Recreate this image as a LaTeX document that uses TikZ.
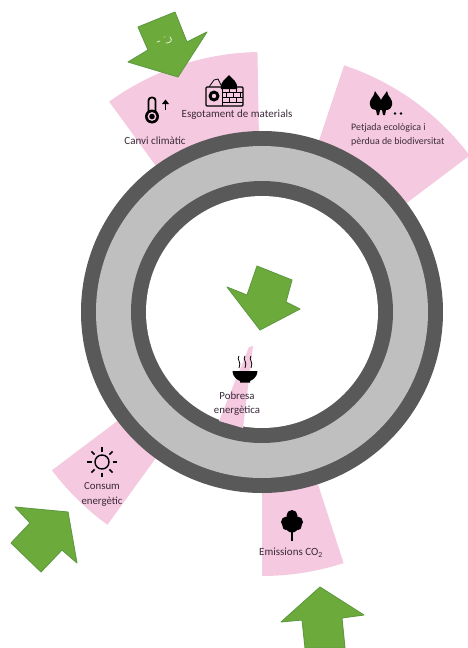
\documentclass[tikz,border=0pt]{standalone}
\usepackage{fontspec}
\usetikzlibrary{calc}
\setmainfont{Carlito}
\definecolor{pinkfill}{HTML}{F5C9E0}
\definecolor{arrowgreen}{HTML}{6DAA3C}
\definecolor{arrowedge}{HTML}{5E9A40}
\definecolor{ringdark}{HTML}{595959}
\definecolor{ringlight}{HTML}{BFBFBF}
\definecolor{labelink}{HTML}{3A2A3A}
\tikzset{
  sector/.style={fill=pinkfill,draw=none},
  bigarrow/.style={fill=arrowgreen,draw=arrowedge,line width=0.9pt,line join=round},
  lbl/.style={font=\fontsize{11}{13}\selectfont,text=labelink,inner sep=0pt,align=center},
  icon/.style={fill=black,draw=none}
}
\begin{document}
\begin{tikzpicture}[x=1pt,y=-1pt]
\useasboundingbox (0,0) rectangle (467,648);
\coordinate (c) at (262,312);
% pink sectors (centre c, y axis downward so angles are negated)
\fill[sector] (c) -- ($(c)+(-126:260)$) arc[start angle=-126,end angle=-91,radius=260] -- cycle;
\fill[sector] (c) -- ($(c)+(-71.6:260)$) arc[start angle=-71.6,end angle=-37,radius=260] -- cycle;
\fill[sector] (c) -- ($(c)+(-217:263)$) arc[start angle=-217,end angle=-234,radius=263] -- cycle;
\fill[sector] (c) -- ($(c)+(-270:264)$) arc[start angle=-270,end angle=-288,radius=264] -- cycle;
% ring
\fill[ringdark] (c) circle[radius=181];
\fill[ringlight] (c) circle[radius=166];
\fill[ringdark] (c) circle[radius=131];
\fill[white] (c) circle[radius=116];
% pink strip inside
\fill[sector] (249,347) -- (253,346) -- (243,428) -- (219,421) -- cycle;
% arrows
\draw[bigarrow] (175,12) -- (138,27) -- (148,50) -- (128,62) -- (178,77) -- (207,32) -- (187,42) -- cycle;
\draw[white,line width=0.9pt,opacity=0.75,line cap=round] (157,42) -- (160,41) (164,37) -- (165,37) (166,43) .. controls (171,43) and (173,40) .. (170,37);
\draw[bigarrow] (257,266) -- (292,280) -- (286,302) -- (300,309) -- (260,330) -- (227,287) -- (247,295) -- cycle;
\draw[bigarrow] (15,507) -- (68,512) -- (77,563) -- (62,550) -- (41,572) -- (11,543) -- (30,523) -- cycle;
\draw[bigarrow] (320,587) -- (364,615) -- (342,618) -- (345,648) -- (305,648) -- (302,620) -- (281,622) -- cycle;
% thermometer
\draw[black,line width=1.8pt,fill=none,rounded corners=3pt] (148.5,113) -- (148.5,97.5) -- (155.5,97.5) -- (155.5,113);
\fill[black] (152,116.5) circle[radius=7];
\fill[pinkfill] (152,116.5) circle[radius=4.4];
\fill[black] (152,116.5) circle[radius=2.8];
\draw[black,line width=1.3pt] (165.5,110) -- (165.5,102);
\fill[black] (162,104) -- (165.5,99.5) -- (169,104) -- cycle;
% toolbox and bricks
\draw[black,line width=1.1pt,fill=pinkfill,rounded corners=1pt] (206,87) rectangle (243,106);
\draw[black,line width=0.8pt] (222,92) -- (243,92) (222,97) -- (243,97) (222,102) -- (243,102) (222,87) -- (222,106)
  (229,87) -- (229,92) (236,87) -- (236,92) (226,92) -- (226,97) (233,92) -- (233,97) (240,92) -- (240,97)
  (229,97) -- (229,102) (236,97) -- (236,102);
\fill[black] (214,96) circle[radius=5.5];
\fill[pinkfill] (214,96) circle[radius=2.2];
\draw[black,line width=0.8pt] (209,87) -- (214,80) -- (218,79) -- (222,87);
\fill[black] (221,89) .. controls (220,81) and (226,79) .. (229,75) .. controls (232,79) and (238,81) .. (237,89) -- cycle;
% trees top right
\fill[icon] (370,105) .. controls (369,98) and (374,98) .. (375,91) .. controls (378,96) and (379,96) .. (381,100)
 .. controls (383,96) and (384,96) .. (387,91) .. controls (388,98) and (393,98) .. (392,105) .. controls (391,110) and (387,110) .. (386,110)
 -- (385,115) -- (383,115) -- (382,110) -- (380,110) -- (379,115) -- (377,115) -- (376,110) .. controls (373,110) and (371,109) .. (370,105) -- cycle;
\fill[icon] (395,113.5) circle[radius=1.4];
\fill[icon] (401,113.5) circle[radius=1.4];
% bowl
\fill[icon] (232.5,371) -- (257.5,371) .. controls (257,378) and (252,380) .. (250,381) -- (250,382.5) -- (240,382.5) -- (240,381) .. controls (238,380) and (233,378) .. (232.5,371) -- cycle;
\foreach \sx in {239,245,251}{
  \draw[black,line width=0.8pt] (\sx,356) .. controls (\sx-3,359) and (\sx+3,362) .. (\sx,368);
}
% sun
\draw[black,line width=1.4pt] (102,462) circle[radius=7];
\foreach \a in {0,45,...,315}{
  \draw[black,line width=1.5pt] ($(102,462)+(\a:10.5)$) -- ($(102,462)+(\a:15)$);
}
% tree bottom
\fill[icon] (292,515.5) circle[radius=5.5];
\fill[icon] (286.5,522) circle[radius=5.5];
\fill[icon] (297.5,522) circle[radius=5.5];
\fill[icon] (292,526) circle[radius=6.5];
\fill[icon] (286,526.5) circle[radius=3.5];
\fill[icon] (298,526.5) circle[radius=3.5];
\fill[icon] (291,528) rectangle (293,541);
% labels
\node[lbl] (mat) at (237,115) {Esgotament de materials};
\node[lbl] (clim) at (155,141) {Canvi climàtic};
\node[lbl,align=left,anchor=north west,font=\fontsize{9.9}{14.5}\selectfont] (pet) at (351,123) {Petjada ecològica i\\pèrdua de biodiversitat};
\node[lbl,font=\fontsize{10.8}{13.5}\selectfont] (pob) at (237,403.5) {Pobresa\\energètica};
\node[lbl,font=\fontsize{10.8}{15}\selectfont] (con) at (102,494.5) {Consum\\energètic};
\node[lbl] (emi) at (291,553) {Emissions CO\textsubscript{2}};
\end{tikzpicture}
\end{document}
